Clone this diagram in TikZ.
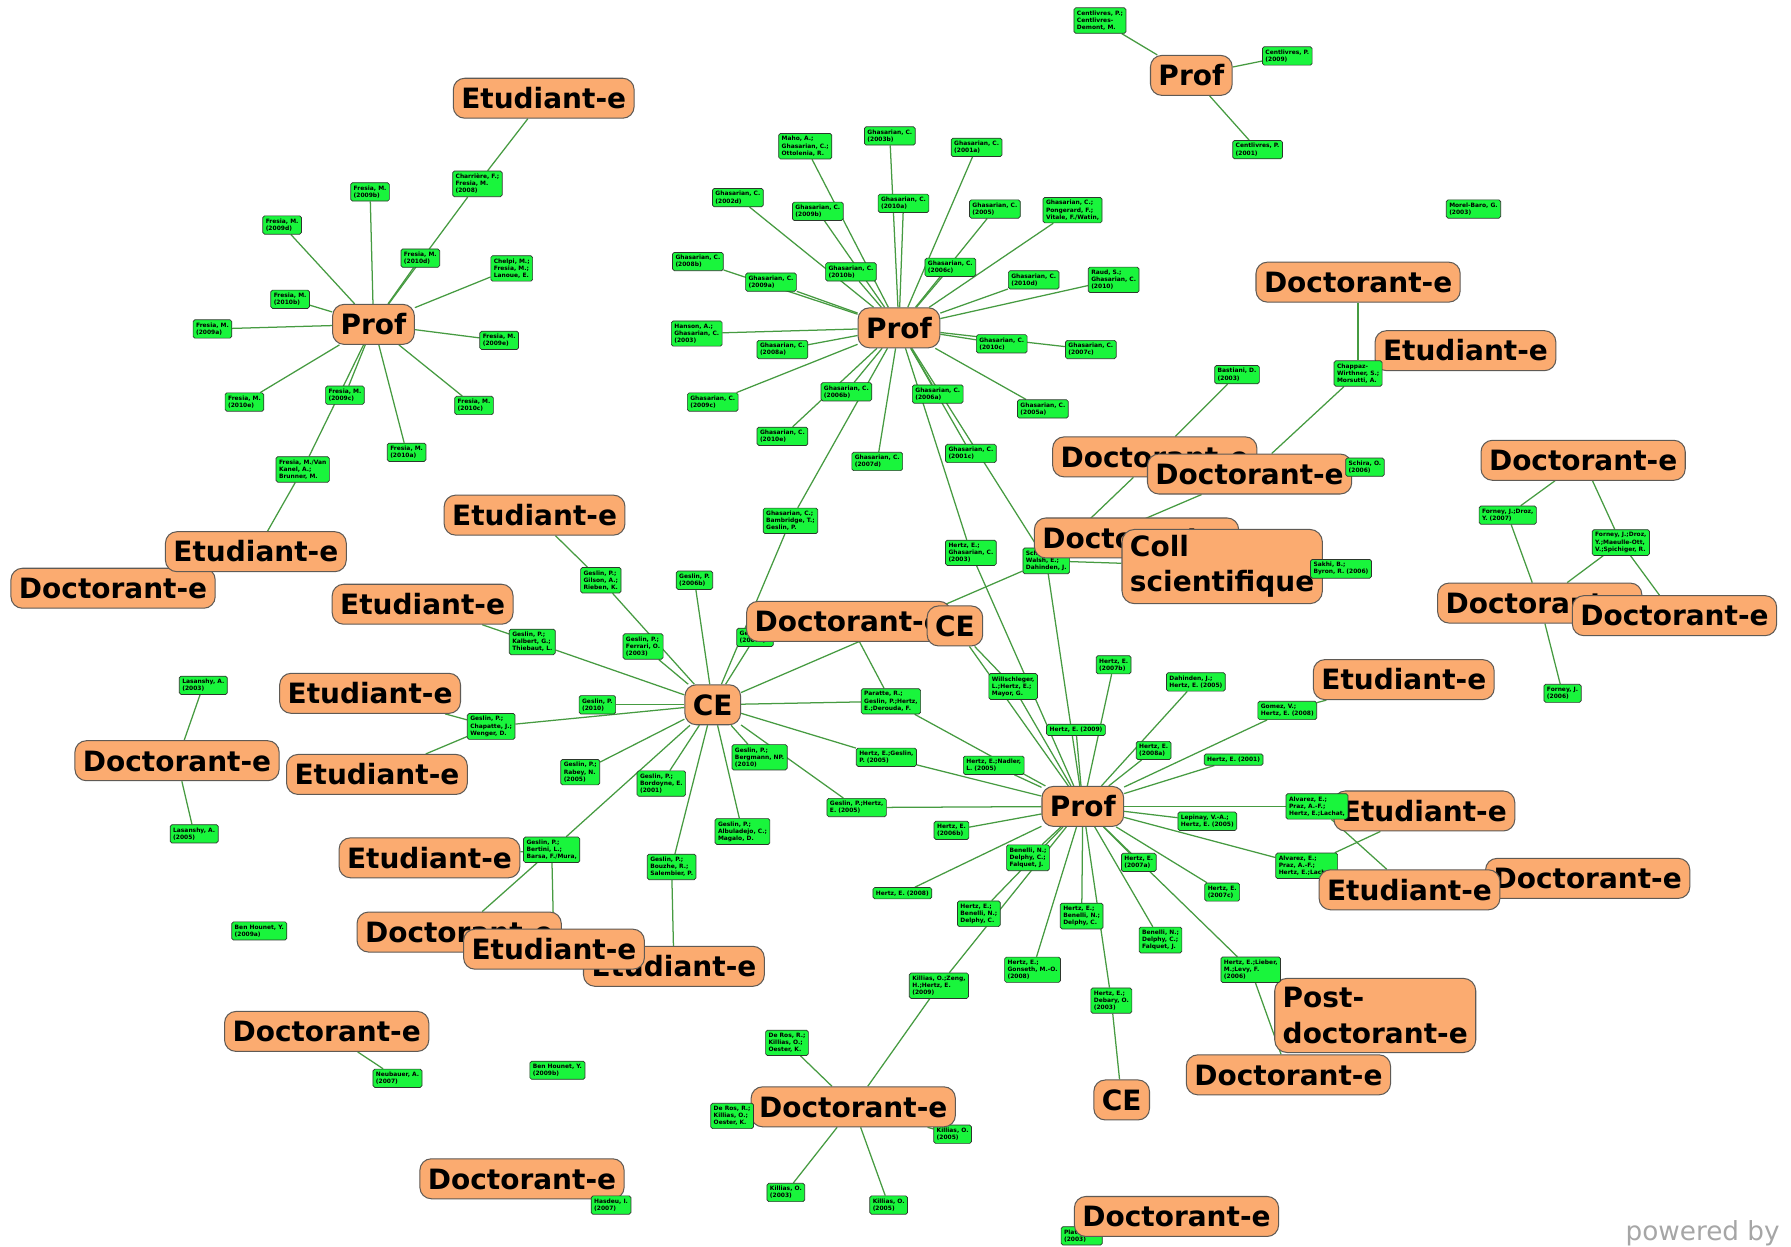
\documentclass[tikz,border=0pt]{standalone}
\usepackage{fontspec}
\setmainfont{DejaVu Sans}
\usetikzlibrary{backgrounds}
\definecolor{ofill}{RGB}{251,171,112}
\definecolor{oline}{RGB}{95,90,85}
\definecolor{gfill}{RGB}{25,245,60}
\definecolor{gline}{RGB}{45,55,45}
\definecolor{edgec}{RGB}{70,155,65}
\tikzset{
 onode/.style={draw=oline, line width=0.9pt, fill=ofill, rounded corners=10pt, font=\fontsize{24.5}{30}\selectfont\bfseries, inner xsep=7pt, inner ysep=0pt, minimum height=35pt, text height=18pt, text depth=0pt},
 onodetwo/.style={draw=oline, line width=0.9pt, fill=ofill, rounded corners=11pt, font=\fontsize{24.5}{31}\selectfont\bfseries, inner xsep=7pt, inner ysep=4pt, align=left, minimum height=65pt},
 gnode/.style={draw=gline, line width=0.6pt, fill=gfill, rounded corners=1.5pt, font=\fontsize{5.2}{6.2}\selectfont\bfseries, inner xsep=2.6pt, inner ysep=2.6pt, align=left},
 edge/.style={draw=edgec, line width=1.1pt}
}
\begin{document}
\begin{tikzpicture}[x=1pt,y=-1pt]
\useasboundingbox (0,0) rectangle (1568,1091);

% green boxes lying under orange nodes
\node[gnode] (k5) at (661,558) {Geslin, P.\\(2007a)};
\node[gnode] (sw) at (916,491) {Schaer, E.;\\Walsh, E.;\\Dahinden, J.};
\node[gnode] (pl) at (947,1082) {Plattner, I.\\(2003)};
\node[gnode] (n3) at (834,993) {Killias, O.\\(2005)};
\node[gnode] (m15) at (1144,758) {Alvarez, E.;\\Praz, A.-F.;\\Hertz, E.;Lachat,};

% orange nodes
\node[onode] (E1) at (476,86) {Etudiant-e};
\node[onode] (P1) at (327,284) {Prof};
\node[onode] (P2) at (787,287) {Prof};
\node[onode] (P3) at (1043,66) {Prof};
\node[onode] (D1) at (1189,247) {Doctorant-e};
\node[onode] (E2) at (1283,307) {Etudiant-e};
\node[onode] (D2) at (1011,400) {Doctorant-e};
\node[onode] (D3) at (1094,415) {Doctorant-e};
\node[onode] (D4) at (1386,403) {Doctorant-e};
\node[onode] (D5) at (995,471) {Doctorant-e};
\node[onodetwo] (C1) at (1070,496) {Coll\\scientifique};
\node[onode] (D6) at (1348,528) {Doctorant-e};
\node[onode] (D7) at (1466,539) {Doctorant-e};
\node[onode] (D8) at (99,515) {Doctorant-e};
\node[onode] (E3) at (224,483) {Etudiant-e};
\node[onode] (E4) at (468,451) {Etudiant-e};
\node[onode] (E5) at (370,529) {Etudiant-e};
\node[onode] (D9) at (743,544) {Doctorant-e};
\node[onode] (CE2) at (836,548) {CE};
\node[onode] (CE1) at (624,617) {CE};
\node[onode] (E6) at (324,607) {Etudiant-e};
\node[onode] (D10) at (155,666) {Doctorant-e};
\node[onode] (E7) at (330,678) {Etudiant-e};
\node[onode] (E8) at (376,751) {Etudiant-e};
\node[onode] (D11) at (402,816) {Doctorant-e};
\node[onode] (E10) at (590,846) {Etudiant-e};
\node[onode] (E9) at (485,831) {Etudiant-e};
\node[onode] (D12) at (286,903) {Doctorant-e};
\node[onode] (D13) at (457,1032) {Doctorant-e};
\node[onode] (D14) at (747,969) {Doctorant-e};
\node[onode] (P4) at (948,706) {Prof};
\node[onode] (E11) at (1229,595) {Etudiant-e};
\node[onode] (E12) at (1247,710) {Etudiant-e};
\node[onode] (D15) at (1390,769) {Doctorant-e};
\node[onode] (E13) at (1234,779) {Etudiant-e};
\node[onodetwo] (PD) at (1204,889) {Post-\\doctorant-e};
\node[onode] (D16) at (1128,941) {Doctorant-e};
\node[onode] (CE3) at (982,963) {CE};
\node[onode] (D17) at (1030,1065) {Doctorant-e};

% left Prof cluster
\node[gnode] (g1) at (418,161) {Charrière, F.;\\Fresia, M.\\(2008)};
\node[gnode] (g2) at (324,168) {Fresia, M.\\(2009b)};
\node[gnode] (g3) at (247,197) {Fresia, M.\\(2009d)};
\node[gnode] (g4) at (368,226) {Fresia, M.\\(2010d)};
\node[gnode] (g5) at (448,235) {Chelpi, M.;\\Fresia, M.;\\Lanoue, E.};
\node[gnode] (g6) at (254,262) {Fresia, M.\\(2010b)};
\node[gnode] (g7) at (186,288) {Fresia, M.\\(2009a)};
\node[gnode] (g8) at (437,298) {Fresia, M.\\(2009e)};
\node[gnode] (g9) at (214,352) {Fresia, M.\\(2010e)};
\node[gnode] (g10) at (302,346) {Fresia, M.\\(2009c)};
\node[gnode] (g11) at (415,355) {Fresia, M.\\(2010c)};
\node[gnode] (g12) at (356,396) {Fresia, M.\\(2010a)};
\node[gnode] (g13) at (265,411) {Fresia, M./Van\\Kanel, A.;\\Brunner, M.};

% top Prof cluster
\node[gnode] (h1) at (705,128) {Maho, A.;\\Ghasarian, C.;\\Ottolenia, R.};
\node[gnode] (h2) at (779,119) {Ghasarian, C.\\(2003b)};
\node[gnode] (h3) at (855,129) {Ghasarian, C.\\(2001a)};
\node[gnode] (h4) at (646,173) {Ghasarian, C.\\(2002d)};
\node[gnode] (h5) at (716,185) {Ghasarian, C.\\(2009b)};
\node[gnode] (h6) at (791,178) {Ghasarian, C.\\(2010a)};
\node[gnode] (h7) at (871,183) {Ghasarian, C.\\(2005)};
\node[gnode] (h8) at (939,184) {Ghasarian, C.;\\Pongerard, F.;\\Vitale, F./Watin,};
\node[gnode] (h9) at (611,229) {Ghasarian, C.\\(2008b)};
\node[gnode] (h10) at (675,247) {Ghasarian, C.\\(2009a)};
\node[gnode] (h11) at (745,238) {Ghasarian, C.\\(2010b)};
\node[gnode] (h12) at (832,234) {Ghasarian, C.\\(2006c)};
\node[gnode] (h13) at (905,245) {Ghasarian, C.\\(2010d)};
\node[gnode] (h14) at (975,245) {Raud, S.;\\Ghasarian, C.\\(2010)};
\node[gnode] (h15) at (610,292) {Hanson, A.;\\Ghasarian, C.\\(2003)};
\node[gnode] (h16) at (685,306) {Ghasarian, C.\\(2008a)};
\node[gnode] (h17) at (877,301) {Ghasarian, C.\\(2010c)};
\node[gnode] (h18) at (955,306) {Ghasarian, C.\\(2007c)};
\node[gnode] (h19) at (624,352) {Ghasarian, C.\\(2009c)};
\node[gnode] (h20) at (741,343) {Ghasarian, C.\\(2006b)};
\node[gnode] (h21) at (821,345) {Ghasarian, C.\\(2006a)};
\node[gnode] (h22) at (913,358) {Ghasarian, C.\\(2005a)};
\node[gnode] (h23) at (685,382) {Ghasarian, C.\\(2010e)};
\node[gnode] (h24) at (768,404) {Ghasarian, C.\\(2007d)};
\node[gnode] (h25) at (850,397) {Ghasarian, C.\\(2001c)};
\node[gnode] (h26) at (692,456) {Ghasarian, C.;\\Bambridge, T.;\\Geslin, P.};
\node[gnode] (h27) at (850,484) {Hertz, E.;\\Ghasarian, C.\\(2003)};

% top right Prof
\node[gnode] (c1) at (963,18) {Centlivres, P.;\\Centlivres-\\Demont, M.};
\node[gnode] (c2) at (1127,49) {Centlivres, P.\\(2009)};
\node[gnode] (c3) at (1101,131) {Centlivres, P.\\(2001)};
\node[gnode] (mb) at (1290,183) {Morel-Baro, G.\\(2003)};

% right side
\node[gnode] (ba) at (1083,328) {Bastiani, D.\\(2003)};
\node[gnode] (cw) at (1189,327) {Chappaz-\\Wirthner, S.;\\Morsutti, A.};
\node[gnode] (sc) at (1195,409) {Schira, O.\\(2006)};
\node[gnode] (sk) at (1174,498) {Sakhi, B.;\\Byron, R. (2006)};
\node[gnode] (f1) at (1320,451) {Forney, J.;Droz,\\Y. (2007)};
\node[gnode] (f2) at (1419,475) {Forney, J.;Droz,\\Y.;Maeulle-Ott,\\V.;Spichiger, R.};
\node[gnode] (f3) at (1368,607) {Forney, J.\\(2006)};

% CE cluster
\node[gnode] (k1) at (526,508) {Geslin, P.;\\Gilson, A.;\\Rieben, K.};
\node[gnode] (k2) at (608,508) {Geslin, P.\\(2006b)};
\node[gnode] (k3) at (563,566) {Geslin, P.;\\Ferrari, O.\\(2003)};
\node[gnode] (k4) at (466,562) {Geslin, P.;\\Kalbert, G.;\\Thiebaut, L.};
\node[gnode] (k6) at (523,617) {Geslin, P.\\(2010)};
\node[gnode] (k7) at (430,636) {Geslin, P.;\\Chapatte, J.;\\Wenger, D.};
\node[gnode] (k8) at (508,676) {Geslin, P.;\\Rabey, N.\\(2005)};
\node[gnode] (k9) at (579,686) {Geslin, P.;\\Bordoyne, E.\\(2001)};
\node[gnode] (k10) at (665,663) {Geslin, P.;\\Bergmann, NP.\\(2010)};
\node[gnode] (k11) at (650,728) {Geslin, P.;\\Albuladejo, C.;\\Magalo, D.};
\node[gnode] (k12) at (588,759) {Geslin, P.;\\Bouzhe, R.;\\Salembier, P.};
\node[gnode] (k13) at (483,744) {Geslin, P.;\\Bertini, L.;\\Barsa, F./Mura,};

% bottom Prof cluster
\node[gnode] (m1) at (887,601) {Willschleger,\\L.;Hertz, E.;\\Mayor, G.};
\node[gnode] (m2) at (975,582) {Hertz, E.\\(2007b)};
\node[gnode] (m3) at (1047,597) {Dahinden, J.;\\Hertz, E. (2005)};
\node[gnode] (m4) at (1127,622) {Gomez, V.;\\Hertz, E. (2008)};
\node[gnode] (m5) at (942,639) {Hertz, E. (2009)};
\node[gnode] (m6) at (1010,657) {Hertz, E.\\(2008a)};
\node[gnode] (m7) at (1080,665) {Hertz, E. (2001)};
\node[gnode] (m8) at (780,614) {Paratte, R.;\\Geslin, P.;Hertz,\\E.;Derouda, F.};
\node[gnode] (m9) at (776,663) {Hertz, E.;Geslin,\\P. (2005)};
\node[gnode] (m10) at (870,670) {Hertz, E.;Nadler,\\L. (2005)};
\node[gnode] (m11) at (750,707) {Geslin, P.;Hertz,\\E. (2005)};
\node[gnode] (m12) at (833,727) {Hertz, E.\\(2006b)};
\node[gnode] (m13) at (1057,719) {Lepinay, V.-A.;\\Hertz, E. (2005)};
\node[gnode] (m14) at (1153,706) {Alvarez, E.;\\Praz, A.-F.;\\Hertz, E.;Lachat,};
\node[gnode] (m16) at (900,751) {Benelli, N.;\\Delphy, C.;\\Falquet, J.};
\node[gnode] (m17) at (997,755) {Hertz, E.\\(2007a)};
\node[gnode] (m18) at (1070,781) {Hertz, E.\\(2007c)};
\node[gnode] (m19) at (790,782) {Hertz, E. (2008)};
\node[gnode] (m20) at (857,800) {Hertz, E.;\\Benelli, N.;\\Delphy, C.};
\node[gnode] (m21) at (947,802) {Hertz, E.;\\Benelli, N.;\\Delphy, C.};
\node[gnode] (m22) at (1016,823) {Benelli, N.;\\Delphy, C.;\\Falquet, J.};
\node[gnode] (m23) at (1095,849) {Hertz, E.;Lieber,\\M.;Levy, F.\\(2006)};
\node[gnode] (m24) at (904,849) {Hertz, E.;\\Gonseth, M.-O.\\(2008)};
\node[gnode] (m25) at (973,876) {Hertz, E.;\\Debary, O.\\(2003)};
\node[gnode] (m26) at (822,863) {Killias, O.;Zeng,\\H.;Hertz, E.\\(2009)};

% Killias cluster
\node[gnode] (n1) at (689,913) {De Ros, R.;\\Killias, O.;\\Oester, K.};
\node[gnode] (n2) at (641,977) {De Ros, R.;\\Killias, O.;\\Oester, K.};
\node[gnode] (n4) at (688,1044) {Killias, O.\\(2003)};
\node[gnode] (n5) at (778,1055) {Killias, O.\\(2005)};

% left bottom
\node[gnode] (l1) at (178,600) {Lasanshy, A.\\(2003)};
\node[gnode] (l2) at (170,730) {Lasanshy, A.\\(2005)};
\node[gnode] (bh1) at (227,815) {Ben Hounet, Y.\\(2009a)};
\node[gnode] (ne) at (348,944) {Neubauer, A.\\(2007)};
\node[gnode] (bh2) at (488,937) {Ben Hounet, Y.\\(2009b)};
\node[gnode] (hs) at (535,1055) {Hasdeu, I.\\(2007)};

\node[anchor=base west, text=black!35, font=\fontsize{23}{28}\selectfont, inner sep=0pt] (pw) at (1423,1086) {powered by};

\begin{scope}[on background layer]
\fill[white] (0,0) rectangle (1568,1091);
\foreach \a/\b in {E1/g1, g1/P1, P1/g2, P1/g3, P1/g4, P1/g5, P1/g6, P1/g7, P1/g8, P1/g9, P1/g10, P1/g11, P1/g12, P1/g13, g13/E3,
 P2/h1, P2/h2, P2/h3, P2/h4, P2/h5, P2/h6, P2/h7, P2/h8, P2/h9, P2/h10, P2/h11, P2/h12, P2/h13, P2/h14, P2/h15, P2/h16, P2/h17, P2/h18, P2/h19, P2/h20, P2/h21, P2/h22, P2/h23, P2/h24, P2/h25, P2/h26, P2/h27, P2/sw, h26/CE1, h27/P4,
 P3/c1, P3/c2, P3/c3,
 ba/D2, cw/D1, cw/D3, sc/D3, sk/C1, sw/C1, sw/D2, sw/D3, sw/D5, sw/CE1, sw/P4,
 D4/f1, D4/f2, f1/D6, f2/D6, f2/D7, D6/f3,
 CE1/k1, CE1/k2, CE1/k3, CE1/k4, CE1/k5, CE1/k6, CE1/k7, CE1/k8, CE1/k9, CE1/k10, CE1/k11, CE1/k12, CE1/k13,
 E4/k1, E5/k4, E6/k7, E7/k7, k12/E10, k13/E8, k13/D11, k13/E9,
 CE1/m8, CE1/m9, CE1/m11, D9/m8, CE2/m1, CE2/P4,
 P4/m1, P4/m2, P4/m3, P4/m4, P4/m5, P4/m6, P4/m7, P4/m8, P4/m9, P4/m10, P4/m11, P4/m12, P4/m13, P4/m14, P4/m15, P4/m16, P4/m17, P4/m18, P4/m19, P4/m20, P4/m21, P4/m22, P4/m23, P4/m24, P4/m25, P4/m26,
 m4/E11, m14/E13, m15/E12, m23/D16, m25/CE3, m26/D14,
 D14/n1, D14/n2, D14/n3, D14/n4, D14/n5,
 D10/l1, D10/l2, D12/ne, D13/hs, D17/pl}
 \draw[edge] (\a) -- (\b);
\end{scope}
\end{tikzpicture}
\end{document}
